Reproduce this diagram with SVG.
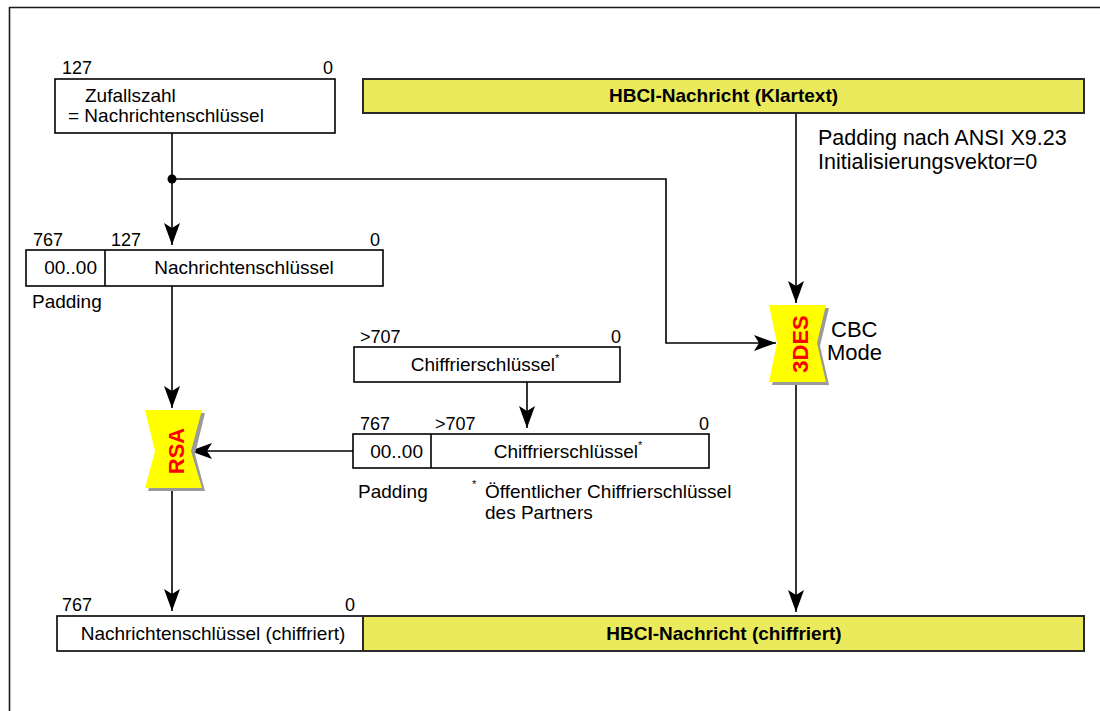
<svg xmlns="http://www.w3.org/2000/svg" width="1100" height="711" viewBox="0 0 1100 711">
<style>
text{font-family:"Liberation Sans",Arial,sans-serif;fill:#000}
.t{font-size:19px}
.n{font-size:18px}
.b{font-size:19px;font-weight:bold}
.big{font-size:22px}
.note{font-size:21.5px}
.sup{font-size:11px}
.box{fill:#fff;stroke:#000;stroke-width:1.6}
.ybar{fill:#eaea5c;stroke:#2a2a2a;stroke-width:2}
.line{fill:none;stroke:#000;stroke-width:1.6}
.cipher{fill:#ffff00}
.shadow{fill:#9a9a9a}
.ct{font-size:22px;font-weight:bold;fill:#ff0000}
</style>
<defs>
<marker id="arr" viewBox="0 0 22 16" refX="22" refY="8" markerWidth="22" markerHeight="16" markerUnits="userSpaceOnUse" orient="auto">
<path d="M0,0 L22,8 L0,16 L5,8 z" fill="#000"/>
</marker>
</defs>
<rect width="1100" height="711" fill="#fff"/>
<path d="M9.5,711 V7.5 H1100" fill="none" stroke="#1a1a1a" stroke-width="1.6"/>

<g id="connectors">
<path class="line" d="M172,133 V245" marker-end="url(#arr)"/>
<path class="line" d="M172,179 H666 V343 H776" marker-end="url(#arr)"/>
<circle cx="172" cy="179" r="4.5" fill="#000"/>
<path class="line" d="M796,113 V303" marker-end="url(#arr)"/>
<path class="line" d="M172,286 V408" marker-end="url(#arr)"/>
<path class="line" d="M353,451 H190" marker-end="url(#arr)"/>
<path class="line" d="M527,382 V428" marker-end="url(#arr)"/>
<path class="line" d="M172,490 V611" marker-end="url(#arr)"/>
<path class="line" d="M796,385 V612" marker-end="url(#arr)"/>
</g>

<g id="zufallszahl">
<rect class="box" x="55" y="79" width="280" height="54"/>
<text class="n" x="62" y="74">127</text>
<text class="n" x="333" y="74" text-anchor="end">0</text>
<text class="t" x="85" y="102">Zufallszahl</text>
<text class="t" x="68" y="122">= Nachrichtenschlüssel</text>
</g>

<g id="hbci-klartext">
<rect class="ybar" x="363" y="79" width="721" height="34"/>
<text class="b" x="723.5" y="102" text-anchor="middle">HBCI-Nachricht (Klartext)</text>
</g>

<g id="padding-note">
<text class="note" x="818" y="145">Padding nach ANSI X9.23</text>
<text class="note" x="818" y="169">Initialisierungsvektor=0</text>
</g>

<g id="nachrichtenschluessel-padded">
<rect class="box" x="26" y="250" width="357" height="36"/>
<line x1="105" y1="250" x2="105" y2="286" stroke="#000" stroke-width="1.6"/>
<text class="n" x="33" y="246">767</text>
<text class="n" x="111" y="246">127</text>
<text class="n" x="380" y="246" text-anchor="end">0</text>
<text class="t" x="97" y="274" text-anchor="end">00..00</text>
<text class="t" x="244" y="274" text-anchor="middle">Nachrichtenschlüssel</text>
<text class="t" x="32" y="308">Padding</text>
</g>

<g id="des3">
<path class="shadow" d="M772,308 H829 L820,346 L829,385 H772 L780,346 z"/>
<path class="cipher" d="M769,305 H826 L817,343 L826,382 H769 L777,343 z"/>
<text class="ct" transform="translate(808,344) rotate(-90)" text-anchor="middle">3DES</text>
<text class="big" x="831" y="337">CBC</text>
<text class="big" x="827" y="360">Mode</text>
</g>

<g id="chiffrierschluessel">
<rect class="box" x="354" y="347" width="266" height="35"/>
<text class="n" x="360" y="343">&gt;707</text>
<text class="n" x="621" y="343" text-anchor="end">0</text>
<text class="t" x="485" y="371" text-anchor="middle">Chiffrierschlüssel<tspan class="sup" dy="-9">*</tspan></text>
</g>

<g id="chiffrierschluessel-padded">
<rect class="box" x="353" y="434" width="356" height="34"/>
<line x1="431" y1="434" x2="431" y2="468" stroke="#000" stroke-width="1.6"/>
<text class="n" x="360" y="430">767</text>
<text class="n" x="435" y="430">&gt;707</text>
<text class="n" x="709" y="430" text-anchor="end">0</text>
<text class="t" x="423" y="458" text-anchor="end">00..00</text>
<text class="t" x="568" y="458" text-anchor="middle">Chiffrierschlüssel<tspan class="sup" dy="-9">*</tspan></text>
<text class="t" x="358" y="498">Padding</text>
<text class="sup" x="472" y="488">*</text>
<text class="t" x="485" y="498">Öffentlicher Chiffrierschlüssel</text>
<text class="t" x="485" y="519">des Partners</text>
</g>

<g id="rsa">
<path class="shadow" d="M148,413 H205 L195,454 L205,491 H148 L158,454 z"/>
<path class="cipher" d="M145,410 H202 L191,451 L202,488 H145 L155,451 z"/>
<text class="ct" transform="translate(184,451) rotate(-90)" text-anchor="middle">RSA</text>
</g>

<g id="ergebnis">
<rect class="box" x="57" y="616" width="306" height="35"/>
<rect class="ybar" x="363" y="616" width="721" height="35"/>
<text class="n" x="62" y="611">767</text>
<text class="n" x="355" y="611" text-anchor="end">0</text>
<text class="t" x="213" y="640" text-anchor="middle">Nachrichtenschlüssel (chiffriert)</text>
<text class="b" x="724" y="640" text-anchor="middle">HBCI-Nachricht (chiffriert)</text>
</g>
</svg>
